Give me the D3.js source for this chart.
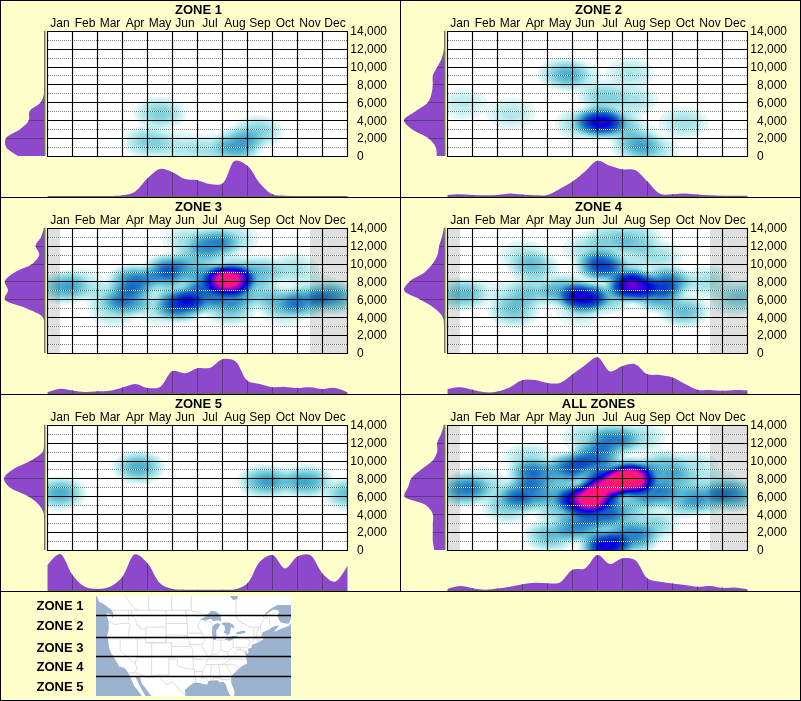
<!DOCTYPE html>
<html>
<head>
<meta charset="utf-8">
<script src="https://cdn.jsdelivr.net/npm/d3@7"></script>
<style>
html, body { margin: 0; padding: 0; background: #ffffcc; }
svg { display: block; }
text { font-family: "Liberation Sans", Arial, sans-serif; fill: #000; }
</style>
</head>
<body>
<div id="my_dataviz"></div>
<script>
var months = ["Jan", "Feb", "Mar", "Apr", "May", "Jun", "Jul", "Aug", "Sep", "Oct", "Nov", "Dec"];
var elevTicks = [0, 2000, 4000, 6000, 8000, 10000, 12000, 14000];
var elevDotted = [1000, 3000, 5000, 7000, 9000, 11000, 13000];
var zoneNames = ["ZONE 1", "ZONE 2", "ZONE 3", "ZONE 4", "ZONE 5", "ALL ZONES"];

// months with no observations, [from, to] in month units
var greyMonths = [[0, 0.5], [10.5, 12]];

// seasonal profile, one value per half month
var season1 = [0,0,0,0,0,0,.02,.12,.49,.75,.66,.47,.44,.33,.35,.98,.84,.35,.05,.01,0,0,0,0,0];
var season2 = [.03,.05,.03,.02,.03,.07,.04,.02,.03,.2,.4,.68,.98,.84,.74,.72,.4,.06,.05,.07,.04,.02,.01,.01,.01];
var season3 = [.02,.12,.07,.03,.05,.06,.15,.25,.14,.17,.61,.55,.69,.7,.94,.89,.34,.25,.16,.17,.14,.16,.11,.14,.02];
var season4 = [.11,.16,.09,.02,.04,.16,.36,.36,.28,.28,.52,.77,.99,.6,.75,.8,.52,.5,.43,.25,.09,.08,.06,.08,.07];
var season5 = [.69,1,.42,.09,.03,.09,.37,.99,.74,.19,.03,.01,.01,.01,.01,.02,.19,.79,.97,.6,.93,.97,.46,.23,.68];
var seasonAll = [.03,.11,.05,.01,.04,.09,.16,.2,.19,.21,.56,.6,.97,.72,.88,.83,.32,.23,.18,.14,.09,.11,.06,.07,.02];

// elevation profile, one value per 1000 ft from 0 to 14000
var elev1 = [.65,.95,.95,.6,.38,.36,.08,0,0,0,0,0,0,0,0];
var elev2 = [.18,.21,.4,.8,1,.71,.4,.31,.28,.28,.16,.05,0,0,0];
var elev3 = [0,0,0,0,.03,.45,.98,.9,.98,.74,.28,.12,.21,.07,0];
var elev4 = [0,0,0,0,.03,.24,.61,1,.86,.49,.28,.16,.12,.05,0];
var elev5 = [0,0,0,0,0,.12,.4,.86,1,.78,.32,.03,0,0,0];
var elevAll = [.24,.28,.28,.28,.28,.45,.99,.9,.82,.57,.28,.17,.17,.07,0];

// hot spots: [month position, elevation, strength]
var spots1 = [[4.5,4770,.5],[4.05,1600,.5],[5.2,1000,.25],[6.4,700,.3],[7.65,1400,.7],[8.4,2700,.5],[7.45,500,.3]];
var spots2 = [[.65,5800,.22],[2.55,4750,.26],[4.65,9150,.6],[5.2,8900,.26],[6.1,3800,1.8],[5.3,3600,.4],[6.8,3600,.55],
  [6.25,6600,.5],[7.45,6250,.3],[7.3,9200,.28],[7.6,1200,.65],[8.25,650,.33],[7.45,2500,.2],[9.45,3700,.33]];
var spots3 = [[.7,7300,.75],[1.3,7800,.25],[3.45,8050,1.15],[3.25,5950,1],[2.4,6400,.33],[2.65,4700,.33],[4.85,9200,1.15],
  [4.4,8050,.3],[4.5,4900,.3],[5.3,5250,1.25],[5.2,6400,.45],[6.1,6200,1.15],[6.65,12200,1],[5.6,12500,.33],[7.45,12700,.33],
  [6,10500,.55],[5.2,9500,.2],[6.4,8250,1.1],[7.3,8100,3.2],[7.45,9200,.5],[7.3,6400,.75],[7.3,4900,.6],[8.5,9000,.65],
  [8.4,6600,.5],[9.45,5650,.55],[9.45,4700,.25],[9.85,9350,.33],[10.3,5700,.85],[11.4,6200,.9],[10.8,7100,.25]];
var spots4 = [[.55,6550,.6],[1.15,6750,.15],[2.65,4700,.55],[2.65,6400,.3],[3.45,6750,.45],[3.45,9550,.55],[3.05,10850,.28],
  [4.65,6950,.8],[5.45,6200,1.85],[6.4,6200,.55],[6.15,9750,1.55],[5.6,11600,.33],[6.5,12700,.45],[7.55,12700,.45],[7.3,11200,.2],
  [7.4,7500,2.35],[7.15,8800,.45],[8.4,6400,.95],[8.8,7900,1.25],[9.45,4700,.65],[8.4,10850,.33],[10.4,7950,.33],[11.45,6000,.38],
  [12,6600,.22],[5.3,4700,.25]];
var spots5 = [[.5,6350,.8],[3.65,9250,.8],[8.65,7650,.8],[10.4,7650,.8],[9.45,7600,.3],[12.05,6300,.65]];
var spotsAll = [[.7,6700,1.05],[1.25,7600,.3],[3.45,8400,1.2],[3.1,6150,1.2],[2.4,4850,.5],[2.1,6500,.25],[4.85,9100,1.05],
  [3.25,10200,.35],[4.4,6500,.75],[4.4,4650,.5],[5.4,5600,2.3],[6,6150,1.9],[6.35,7450,2.4],[7.3,7800,3.3],[7.55,8550,1.1],
  [6.65,9000,.5],[6.65,12300,1.1],[5.6,12500,.35],[7.7,12500,.35],[5.9,10400,1.15],[5.2,9300,.4],[8.25,6350,1.1],[8.65,9300,.65],
  [9.15,7650,.65],[9.45,5400,.6],[9.85,9300,.28],[10.3,5800,.7],[11.4,6200,.95],[10.7,7250,.3],[4.1,1600,.65],[5.25,2600,1.05],
  [6.1,4300,1.05],[5.3,4300,.3],[6.9,3900,.3],[6.35,400,2.1],[7.45,1400,1.05],[8.25,2800,.45],[6.65,2800,.45],[7.3,5000,.45],[6.7,6300,.2]];

var panelData = [
  {name: zoneNames[0], season: season1, elev: elev1, spots: spots1, grey: false},
  {name: zoneNames[1], season: season2, elev: elev2, spots: spots2, grey: false},
  {name: zoneNames[2], season: season3, elev: elev3, spots: spots3, grey: true},
  {name: zoneNames[3], season: season4, elev: elev4, spots: spots4, grey: true},
  {name: zoneNames[4], season: season5, elev: elev5, spots: spots5, grey: false},
  {name: zoneNames[5], season: seasonAll, elev: elevAll, spots: spotsAll, grey: true}
];

var purple = "#8e48cc";
var lineInPurple = "#5c3a80";

var svg = d3.select("#my_dataviz")
  .append("svg")
  .attr("width", 801)
  .attr("height", 701);

svg.append("rect").attr("width", 801).attr("height", 701).attr("fill", "#ffffcc");

var x = d3.scaleLinear().domain([0, 12]).range([47.5, 347.5]);
var y = d3.scaleLinear().domain([0, 14000]).range([156, 30.7]);
var band = d3.scaleBand().domain(months).range([47.5, 347.5]);
var seasonY = d3.scaleLinear().domain([0, 1]).range([196, 160]);
var elevX = d3.scaleLinear().domain([0, 1]).range([44, 4]);

var heatColor = d3.scaleLinear()
  .domain([0, .08, .3, .75, 1.3, 2, 2.6, 3.2, 4.5])
  .range(["#ffffff", "#dcf6f6", "#a4e4e8", "#4fb4cf", "#0f62c2", "#0000e0", "#8000d0", "#ff1090", "#ff2060"]);

var thresholds = d3.range(.03, 5, .06);
var cols = 301, rows = 126;
var cellX = 12 / (cols - 1), cellY = 14000 / (rows - 1);

// biweight kernel, each spot fades out completely at its radius
function field(spots) {
  var values = new Array(cols * rows);
  for (var j = 0; j < rows; j++) {
    var e = 14000 - j * cellY;
    for (var i = 0; i < cols; i++) {
      var m = i * cellX, sum = 0;
      spots.forEach(function(s) {
        var dx = (m - s[0]) / 1.2, dy = (e - s[1]) / 2150;
        var r2 = dx * dx + dy * dy;
        if (r2 < 1) sum += s[2] * (1 - r2) * (1 - r2);
      });
      values[j * cols + i] = sum;
    }
  }
  return values;
}

panelData.forEach(function(d, n) {
  var col = n % 2, row = Math.floor(n / 2);
  var g = svg.append("g")
    .attr("transform", "translate(" + (col * 400) + "," + (row * 197) + ")");

  g.append("text")
    .attr("x", 198.5)
    .attr("y", 13.5)
    .attr("text-anchor", "middle")
    .attr("font-size", 13)
    .attr("font-weight", "bold")
    .text(d.name);

  // heat map
  g.append("rect")
    .attr("x", x(0)).attr("y", y(14000))
    .attr("width", x(12) - x(0)).attr("height", y(0) - y(14000))
    .attr("fill", "#fff");

  var contours = d3.contours().size([cols, rows]).thresholds(thresholds)(field(d.spots));
  var sx = (x(12) - x(0)) / (cols - 1), sy = (y(0) - y(14000)) / (rows - 1);
  var clipId = "plot" + n;
  g.append("clipPath").attr("id", clipId).append("rect")
    .attr("x", x(0)).attr("y", y(14000))
    .attr("width", x(12) - x(0)).attr("height", y(0) - y(14000));
  g.append("g")
    .attr("clip-path", "url(#" + clipId + ")")
    .append("g")
    .attr("transform", "translate(" + x(0) + "," + y(14000) + ") scale(" + sx + "," + sy + ") translate(-.5,-.5)")
    .selectAll("path")
    .data(contours)
    .enter()
    .append("path")
    .attr("d", d3.geoPath())
    .attr("fill", function(c) { return heatColor(c.value + .03); });

  if (d.grey) {
    g.append("g").selectAll("rect")
      .data(greyMonths)
      .enter()
      .append("rect")
      .attr("x", function(b) { return x(b[0]); })
      .attr("y", y(14000))
      .attr("width", function(b) { return x(b[1]) - x(b[0]); })
      .attr("height", y(0) - y(14000))
      .attr("fill", "#000")
      .attr("opacity", .12);
  }

  // dotted odd thousands, white shows over the colour, grey over the white
  g.append("g").selectAll("line")
    .data(elevDotted)
    .enter()
    .append("line")
    .attr("x1", 47).attr("x2", 347)
    .attr("y1", function(v) { return Math.round(y(v)) + .5; })
    .attr("y2", function(v) { return Math.round(y(v)) + .5; })
    .attr("stroke", "#fff")
    .attr("stroke-dasharray", "1,1");
  g.append("g").selectAll("line")
    .data(elevDotted)
    .enter()
    .append("line")
    .attr("x1", 48).attr("x2", 347)
    .attr("y1", function(v) { return Math.round(y(v)) + .5; })
    .attr("y2", function(v) { return Math.round(y(v)) + .5; })
    .attr("stroke", "#808080")
    .attr("stroke-dasharray", "1,1")
    .style("mix-blend-mode", "multiply");

  // solid grid
  g.append("g").selectAll("line")
    .data(elevTicks)
    .enter()
    .append("line")
    .attr("x1", x(0) - .5).attr("x2", x(12) + .5)
    .attr("y1", function(v) { return Math.round(y(v)) + .5; })
    .attr("y2", function(v) { return Math.round(y(v)) + .5; })
    .attr("stroke", "#000")
    .attr("stroke-width", 1.15);
  g.append("g").selectAll("line")
    .data(d3.range(0, 13))
    .enter()
    .append("line")
    .attr("x1", function(m) { return x(m); })
    .attr("x2", function(m) { return x(m); })
    .attr("y1", Math.round(y(14000)))
    .attr("y2", Math.round(y(0)) + 1)
    .attr("stroke", "#000")
    .attr("stroke-width", 1.15);

  // axes
  var top = g.append("g")
    .attr("transform", "translate(0,30)")
    .call(d3.axisTop(band).tickSize(0).tickPadding(3));
  top.select(".domain").remove();
  top.selectAll("text").attr("font-size", 12).attr("font-family", null).attr("fill", "#000");

  var right = g.append("g")
    .attr("transform", "translate(" + x(12) + ",0)")
    .call(d3.axisRight(y).tickValues(elevTicks).tickFormat(d3.format(",")).tickSize(0));
  right.select(".domain").remove();
  right.selectAll("text")
    .attr("font-size", 12)
    .attr("font-family", null)
    .attr("fill", "#000")
    .attr("text-anchor", function(v) { return v == 0 ? "start" : "end"; })
    .attr("x", function(v) { return v == 0 ? 9.5 : 39.5; });

  // bottom profile
  var seasonArea = d3.area()
    .x(function(v, i) { return x(i / 2); })
    .y0(seasonY(0))
    .y1(function(v) { return Math.min(seasonY(0), seasonY(v)); })
    .curve(d3.curveCatmullRom.alpha(.5));
  g.append("clipPath").attr("id", "season" + n).append("path").attr("d", seasonArea(d.season));
  g.append("path").attr("d", seasonArea(d.season)).attr("fill", purple);
  g.append("g").attr("clip-path", "url(#season" + n + ")").selectAll("line")
    .data(d3.range(1, 12))
    .enter()
    .append("line")
    .attr("x1", function(m) { return x(m); })
    .attr("x2", function(m) { return x(m); })
    .attr("y1", seasonY(1))
    .attr("y2", seasonY(0))
    .attr("stroke", lineInPurple);
  g.append("rect")
    .attr("x", x(0)).attr("width", x(12) - x(0))
    .attr("y", seasonY(0)).attr("height", 1.5)
    .attr("fill", "#6b6b55");

  // left profile
  var elevArea = d3.area()
    .y(function(v, i) { return y(i * 1000); })
    .x0(elevX(0))
    .x1(function(v) { return Math.min(elevX(0), elevX(v)); })
    .curve(d3.curveCatmullRom.alpha(.5));
  g.append("clipPath").attr("id", "elev" + n).append("path").attr("d", elevArea(d.elev));
  g.append("path").attr("d", elevArea(d.elev)).attr("fill", purple);
  g.append("g").attr("clip-path", "url(#elev" + n + ")").selectAll("line")
    .data(elevTicks)
    .enter()
    .append("line")
    .attr("x1", elevX(1)).attr("x2", elevX(0))
    .attr("y1", function(v) { return Math.round(y(v)) + .5; })
    .attr("y2", function(v) { return Math.round(y(v)) + .5; })
    .attr("stroke", lineInPurple);
  g.append("rect")
    .attr("x", elevX(0)).attr("width", 1.5)
    .attr("y", y(14000)).attr("height", y(0) - y(14000))
    .attr("fill", "#77775f");
});

// panel frame
var frame = svg.append("g").attr("stroke", "#000").attr("fill", "none");
frame.append("rect").attr("x", .5).attr("y", .5).attr("width", 800).attr("height", 700);
frame.append("line").attr("x1", 400.5).attr("x2", 400.5).attr("y1", 0).attr("y2", 591);
[197.5, 394.5, 591.5].forEach(function(v) {
  frame.append("line").attr("x1", 0).attr("x2", 801).attr("y1", v).attr("y2", v);
});

// ---- zone legend map, rough outline in lon/lat ----
var land = [[-131,54],[-128,52],[-127.5,51],[-125.5,50.3],[-124,49.5],[-123.2,49.2],[-122.8,49],[-122.5,48.3],[-122.4,47.5],[-122.8,47.2],
  [-123,48.1],[-124.7,48.4],[-124.6,47.5],[-124,46.3],[-124,44.5],[-124.5,42.8],[-124.2,41.5],[-123.8,39.5],[-123,38],[-122.4,37.5],
  [-121.9,36.6],[-120.7,35.2],[-120.5,34.5],[-118.5,34],[-117.2,32.7],[-116,30.5],[-115,28.5],[-114,27.5],[-112,25],[-110,23],
  [-110,24],[-111.5,26],[-113,28.5],[-114.7,31.5],[-113,31.3],[-112.5,29.5],[-111,27.8],[-109.5,26],[-108,24.5],[-106,23],[-105,21],
  [-97.8,21],[-97.8,22.5],[-97.7,25],[-97.2,26],[-97.4,27.5],[-96,28.5],[-94.7,29.4],[-93.8,29.7],[-92,29.6],[-91,29.2],[-89.5,29.2],
  [-89.2,30.2],[-88,30.3],[-86,30.4],[-85.2,29.7],[-84,30],[-83,29],[-82.7,27.8],[-81.8,26.1],[-81,25.2],[-80.3,25.4],[-80,26.8],
  [-80.6,28.3],[-81.3,30],[-81.1,31.8],[-79.8,32.8],[-78.5,33.9],[-77.5,34.5],[-75.6,35.3],[-76,36.9],[-76.3,38.5],[-76.5,39.2],
  [-75.6,38],[-75.1,38.5],[-75.4,39.4],[-74.2,39.6],[-74,40.5],[-72,41],[-70.5,41.7],[-70,41.8],[-70.7,42.6],[-70.2,43.7],[-68,44.4],
  [-67,44.9],[-66,45.2],[-64.5,45.5],[-65.5,44.5],[-66.2,43.8],[-64,44.5],[-61,45.3],[-60,46.2],[-60.4,47],[-61,45.9],[-62,45.8],
  [-64,46.2],[-65,47.5],[-64.5,48.9],[-66.5,49.2],[-69,48],[-70.5,47],[-69,48.5],[-67,49.5],[-65,50.2],[-60,50.2],[-58,52],[-58,54]];
var lakes = [
  [[-92.1,46.7],[-90,47.7],[-89.5,48],[-88.2,48.9],[-86.5,48.7],[-85,47.9],[-84.6,46.5],[-86,46.6],[-87.5,46.5],[-88.3,47],[-90.5,46.6]],
  [[-87.6,41.7],[-86.6,41.8],[-86.3,43],[-86.5,44],[-85.5,45],[-85,45.7],[-86,46],[-87,45.7],[-87.8,45],[-87.9,43.5]],
  [[-84.7,45.8],[-83.5,45.3],[-83.3,44.3],[-83.9,43.7],[-82.5,43],[-81.7,43.4],[-81.3,45],[-80,44.6],[-80.5,45.6],[-82,46.1],[-84,46.1]],
  [[-83.4,41.7],[-81.5,41.5],[-79,42.7],[-79,42.9],[-81,42.7],[-83,42.1]],
  [[-79.7,43.3],[-78,43.3],[-76.3,43.5],[-76.3,44.1],[-77.5,44],[-79.2,43.7]],
  [[-82,54],[-81.5,52],[-80.5,51.3],[-79,51.5],[-79,54]]
];
var borders = [
  [[-123,49],[-95,49],[-94.6,48.7],[-93,48.6],[-91.5,48.1],[-89.6,48]],
  [[-83.1,42.2],[-82.5,43]],
  [[-75,45],[-71.5,45],[-70.8,45.4],[-70.3,46.2],[-70,46.7],[-69.2,47.4],[-68.3,47.3],[-67.8,47],[-67.8,45.7],[-67.3,45.2]],
  [[-114,49],[-116,50],[-118,52],[-120,54]],[[-110,49],[-110,54]],[[-102,49],[-102,54]],[[-95.15,49],[-95.15,52.8],[-90,54]],
  [[-79.5,51.5],[-79.5,47.5],[-78.5,46.5],[-76,45.5],[-74.5,45]],
  [[-124,46.3],[-123,46.2],[-122,45.6],[-119.3,45.9],[-116.9,46]],[[-117,49],[-117,46.4]],
  [[-116.9,46],[-116.5,45.5],[-117,44.3],[-117,42]],[[-124.3,42],[-111,42]],
  [[-116,49],[-116,48],[-114.5,46.6],[-114.3,45.5],[-113.5,45.5],[-113,44.5],[-111.1,44.5]],
  [[-111,45],[-104,45]],[[-111,45],[-111,41],[-104,41],[-104,45]],[[-120,42],[-120,39],[-114.6,35]],[[-114,42],[-114,37]],
  [[-114,37],[-114,36.1],[-114.7,36],[-114.6,35],[-114.1,34.3],[-114.7,32.7]],
  [[-117.1,32.5],[-114.7,32.7],[-111,31.3],[-108.2,31.3],[-108.2,31.8],[-106.5,31.8],[-104.5,29.6],[-103.2,29],[-102.5,29.8],[-101,29.5],[-99.5,27.5],[-97.2,25.9]],
  [[-114,37],[-94.6,37]],[[-111,41],[-109,41],[-109,31.3]],[[-109,41],[-102,41],[-102,37]],[[-103,37],[-103,32],[-106.6,32]],
  [[-103,36.5],[-100,36.5],[-100,34.6],[-98,34.1],[-96,33.8],[-94.5,33.6]],[[-94.5,33.6],[-94,33.6],[-94,31.9],[-93.5,31],[-93.8,29.7]],
  [[-94.5,33.6],[-94.4,35.4],[-94.6,36.5]],[[-94.6,36.5],[-94.6,39.1],[-95.3,40]],[[-102,40],[-95.3,40]],
  [[-104,41],[-104,43],[-98.5,43],[-97,42.8],[-96.5,42.5],[-96,41.5],[-95.8,40.6],[-95.3,40]],[[-104,45.9],[-96.6,45.9]],[[-104,49],[-104,45]],
  [[-97.2,49],[-96.6,46],[-96.5,45.3],[-96.5,43.5],[-96.5,42.5]],[[-96.5,43.5],[-91.2,43.5]],[[-95.8,40.6],[-91.7,40.6],[-91.4,40.4]],
  [[-92,46.7],[-92.3,46.1],[-92.8,45.5],[-92.7,44.8],[-91.2,43.5]],
  [[-91.2,43.5],[-91,42.7],[-90.2,41.8],[-91,41.2],[-91.4,40.4],[-91.5,40],[-90.7,39],[-90.2,38.7],[-89.5,37.3],[-89.1,37],[-89.5,36.5],[-90,35],[-91,33.5],[-91.2,33],[-91.6,31]],
  [[-90.6,42.5],[-87.8,42.5]],[[-90.4,46.6],[-88,46],[-87.6,45.1]],[[-87.5,41.7],[-87.5,39.3],[-88,38],[-88,37.8]],
  [[-89.1,37],[-88,37.8],[-87,37.9],[-86,38],[-85.4,38.7],[-84.8,39.1],[-84,38.8],[-82.6,38.4],[-81.7,39],[-80.7,39.7],[-80.5,40.6]],
  [[-84.8,39.1],[-84.8,41.7]],[[-87,41.75],[-83.4,41.7]],[[-80.5,40.6],[-80.5,42]],[[-79.8,42.3],[-79.8,42],[-75.3,42],[-74.7,41.4]],
  [[-74.7,41.4],[-75,40.5],[-75.5,39.8]],[[-80.5,39.7],[-75.8,39.7]],
  [[-82.6,38.2],[-82,37.5],[-81.5,37.3],[-80.3,37.5],[-79.5,38.5],[-78.4,39.2],[-77.7,39.3]],[[-79.5,39.2],[-77.7,39.3],[-77,38.9],[-76.3,38]],
  [[-89.5,36.5],[-83.7,36.6],[-75.9,36.55]],[[-83.7,36.6],[-82,37.5]],[[-90,35],[-84.3,35]],[[-84.3,35],[-82,36.1],[-81.7,36.6]],
  [[-84.3,35],[-83.1,35],[-81,35.1],[-79.7,34.8],[-78.5,33.9]],[[-83.1,35],[-82,33.5],[-81,32]],[[-85.6,35],[-85.1,32],[-85,31]],
  [[-88.2,35],[-88.4,30.3]],[[-87.6,31],[-85,31],[-84.9,30.7],[-82.2,30.5],[-81.5,30.7]],[[-87.6,31],[-87.5,30.3]],
  [[-91.2,33],[-91.6,31],[-89.7,31],[-89.6,30.2]],[[-94.6,36.5],[-90.2,36.5],[-89.7,36]],[[-94,33],[-91.2,33]],
  [[-73.3,45],[-73.3,43.6],[-73.3,42.7],[-73.5,42],[-73.6,41.1]],[[-71.5,45],[-72.5,43],[-72.5,42.7]],[[-71,45.3],[-70.7,43.1]],
  [[-73.3,42.7],[-70.8,42.8]],[[-73.5,42],[-71.4,42],[-71.4,41.4]],[[-71.8,42],[-71.8,41.3]]
];
var zoneLabelY = [605, 625, 647, 666, 686];
var zoneLat = [48, 42.6, 37.5, 31.7];

var projection = d3.geoMercator()
  .scale(164)
  .center([-124.7, 49])
  .translate([106.7, 610.3]);

function flatPath(pts) {
  return "M" + pts.map(projection).join("L");
}

svg.append("clipPath").attr("id", "mapClip").append("rect")
  .attr("x", 96).attr("y", 596).attr("width", 195).attr("height", 100);

var map = svg.append("g").attr("clip-path", "url(#mapClip)");
map.append("rect").attr("x", 96).attr("y", 596).attr("width", 195).attr("height", 100).attr("fill", "#9bb3cf");
map.append("path").attr("d", flatPath(land) + "Z").attr("fill", "#fff");
map.selectAll(".border")
  .data(borders)
  .enter()
  .append("path")
  .attr("class", "border")
  .attr("d", flatPath)
  .attr("fill", "none")
  .attr("stroke", "#d4d4d4")
  .attr("stroke-width", .8);
map.selectAll(".lake")
  .data(lakes)
  .enter()
  .append("path")
  .attr("class", "lake")
  .attr("d", function(l) { return flatPath(l) + "Z"; })
  .attr("fill", "#9bb3cf");
map.selectAll(".zoneLine")
  .data(zoneLat)
  .enter()
  .append("line")
  .attr("class", "zoneLine")
  .attr("x1", 96).attr("x2", 291)
  .attr("y1", function(l) { return Math.round(projection([-100, l])[1]) + .5; })
  .attr("y2", function(l) { return Math.round(projection([-100, l])[1]) + .5; })
  .attr("stroke", "#000")
  .attr("stroke-width", 1.3);

svg.append("g").selectAll("text")
  .data(zoneNames.slice(0, 5))
  .enter()
  .append("text")
  .attr("x", 83.5)
  .attr("y", function(d, i) { return zoneLabelY[i] + 4.5; })
  .attr("text-anchor", "end")
  .attr("font-size", 13)
  .attr("font-weight", "bold")
  .text(function(d) { return d; });
</script>
</body>
</html>
